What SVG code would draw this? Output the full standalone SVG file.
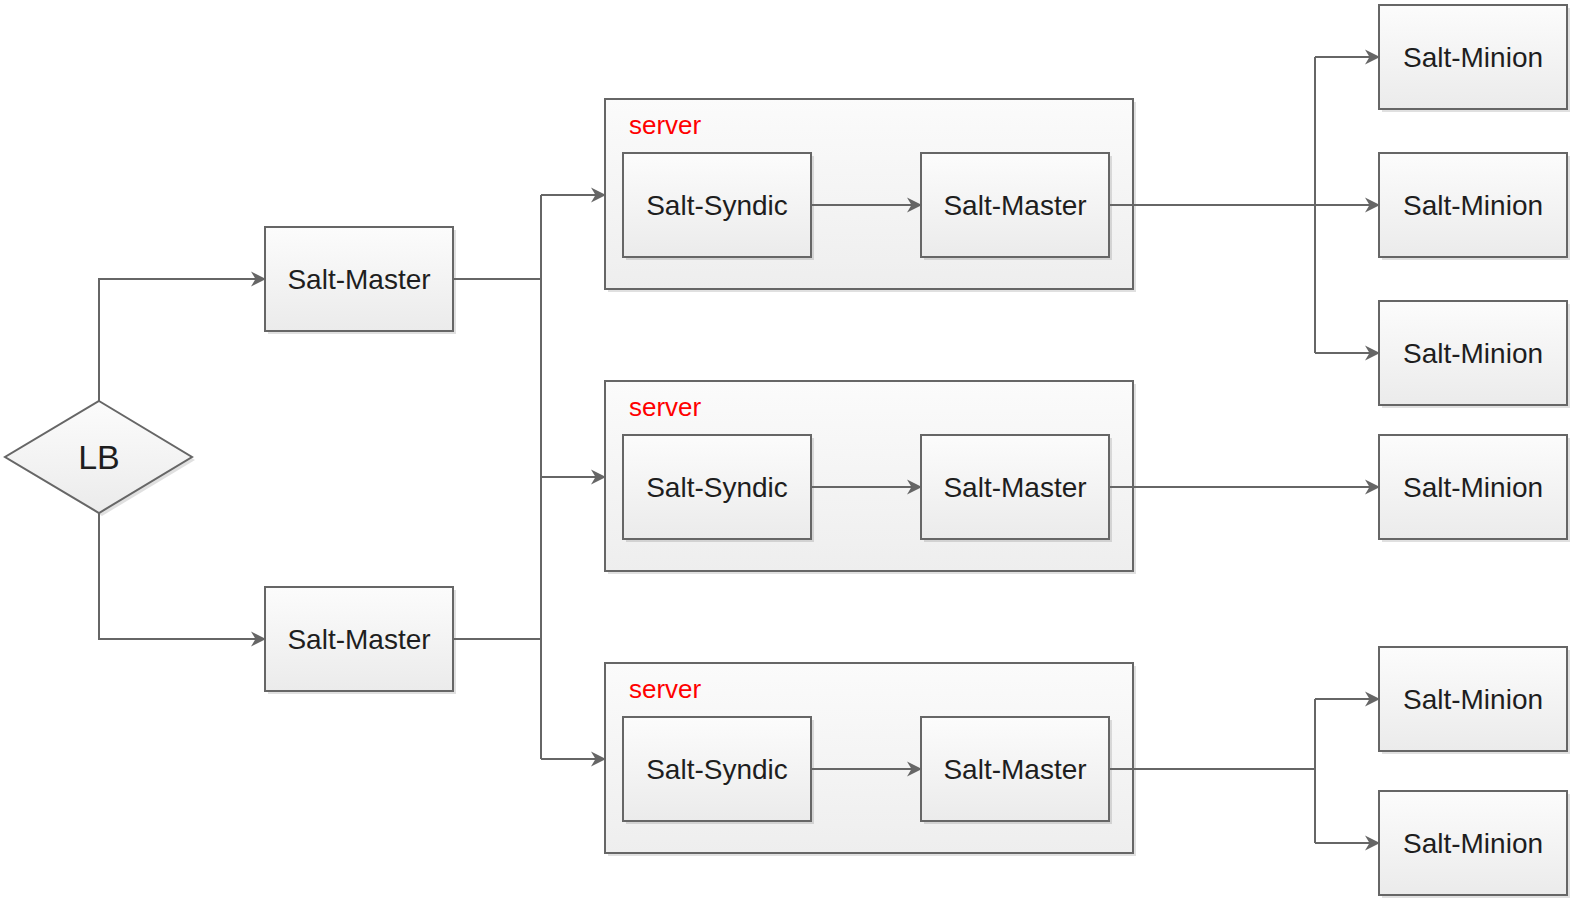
<svg xmlns="http://www.w3.org/2000/svg" width="1572" height="900" viewBox="0 0 1572 900">
<style>
.box{fill:url(#g);stroke:#666;stroke-width:2}
.srv{fill:url(#gs);stroke:#666;stroke-width:2}
.sh{fill:#000;fill-opacity:0.12}
.lbl{font-family:"Liberation Sans",Arial,sans-serif;font-size:28px;fill:#1e1e1e;text-anchor:middle}
.srvt{font-family:"Liberation Sans",Arial,sans-serif;font-size:26px;fill:#ff0000}
.ln{fill:none;stroke:#666;stroke-width:2}
.ar{marker-end:url(#arr)}
</style>
<defs>
<linearGradient id="g" x1="0" y1="0" x2="0" y2="1">
<stop offset="0" stop-color="#fcfcfc"/>
<stop offset="1" stop-color="#ebebeb"/>
</linearGradient>
<linearGradient id="gs" x1="0" y1="0" x2="0" y2="1">
<stop offset="0" stop-color="#fbfbfb"/>
<stop offset="1" stop-color="#eeeeee"/>
</linearGradient>
<marker id="arr" markerUnits="userSpaceOnUse" viewBox="0 0 15 16" markerWidth="15" markerHeight="16" refX="14" refY="8" orient="auto">
<path d="M15,8 L0,0.5 L4.5,8 L0,15.5 Z" fill="#666"/>
</marker>
</defs>
<rect width="1572" height="900" fill="#fff"/>

<g id="lb">
<polygon class="sh" points="102,404 195,460 102,516 8,460"/>
<polygon class="box" points="99,401 192,457 99,513 5,457"/>
<text class="lbl" x="99" y="469" style="font-size:34px">LB</text>
</g>

<g id="master-a">
<rect class="sh" x="268" y="230" width="188" height="104"/>
<rect class="box" x="265" y="227" width="188" height="104"/>
<text class="lbl" x="359" y="289">Salt-Master</text>
</g>
<g id="master-b">
<rect class="sh" x="268" y="590" width="188" height="104"/>
<rect class="box" x="265" y="587" width="188" height="104"/>
<text class="lbl" x="359" y="649">Salt-Master</text>
</g>

<g id="server-1">
<rect class="sh" x="608" y="102" width="528" height="190"/>
<rect class="srv" x="605" y="99" width="528" height="190"/>
<text class="srvt" x="629" y="134">server</text>
<g id="syndic-1">
<rect class="sh" x="626" y="156" width="188" height="104"/>
<rect class="box" x="623" y="153" width="188" height="104"/>
<text class="lbl" x="717" y="215">Salt-Syndic</text>
</g>
<g id="smaster-1">
<rect class="sh" x="924" y="156" width="188" height="104"/>
<rect class="box" x="921" y="153" width="188" height="104"/>
<text class="lbl" x="1015" y="215">Salt-Master</text>
</g>
</g>

<g id="server-2">
<rect class="sh" x="608" y="384" width="528" height="190"/>
<rect class="srv" x="605" y="381" width="528" height="190"/>
<text class="srvt" x="629" y="416">server</text>
<g id="syndic-2">
<rect class="sh" x="626" y="438" width="188" height="104"/>
<rect class="box" x="623" y="435" width="188" height="104"/>
<text class="lbl" x="717" y="497">Salt-Syndic</text>
</g>
<g id="smaster-2">
<rect class="sh" x="924" y="438" width="188" height="104"/>
<rect class="box" x="921" y="435" width="188" height="104"/>
<text class="lbl" x="1015" y="497">Salt-Master</text>
</g>
</g>

<g id="server-3">
<rect class="sh" x="608" y="666" width="528" height="190"/>
<rect class="srv" x="605" y="663" width="528" height="190"/>
<text class="srvt" x="629" y="698">server</text>
<g id="syndic-3">
<rect class="sh" x="626" y="720" width="188" height="104"/>
<rect class="box" x="623" y="717" width="188" height="104"/>
<text class="lbl" x="717" y="779">Salt-Syndic</text>
</g>
<g id="smaster-3">
<rect class="sh" x="924" y="720" width="188" height="104"/>
<rect class="box" x="921" y="717" width="188" height="104"/>
<text class="lbl" x="1015" y="779">Salt-Master</text>
</g>
</g>

<g id="minion-1">
<rect class="sh" x="1382" y="8" width="188" height="104"/>
<rect class="box" x="1379" y="5" width="188" height="104"/>
<text class="lbl" x="1473" y="67">Salt-Minion</text>
</g>
<g id="minion-2">
<rect class="sh" x="1382" y="156" width="188" height="104"/>
<rect class="box" x="1379" y="153" width="188" height="104"/>
<text class="lbl" x="1473" y="215">Salt-Minion</text>
</g>
<g id="minion-3">
<rect class="sh" x="1382" y="304" width="188" height="104"/>
<rect class="box" x="1379" y="301" width="188" height="104"/>
<text class="lbl" x="1473" y="363">Salt-Minion</text>
</g>
<g id="minion-4">
<rect class="sh" x="1382" y="438" width="188" height="104"/>
<rect class="box" x="1379" y="435" width="188" height="104"/>
<text class="lbl" x="1473" y="497">Salt-Minion</text>
</g>
<g id="minion-5">
<rect class="sh" x="1382" y="650" width="188" height="104"/>
<rect class="box" x="1379" y="647" width="188" height="104"/>
<text class="lbl" x="1473" y="709">Salt-Minion</text>
</g>
<g id="minion-6">
<rect class="sh" x="1382" y="794" width="188" height="104"/>
<rect class="box" x="1379" y="791" width="188" height="104"/>
<text class="lbl" x="1473" y="853">Salt-Minion</text>
</g>

<g id="connectors">
<path class="ln ar" d="M99,401 V279 H265"/>
<path class="ln ar" d="M99,513 V639 H265"/>
<path class="ln" d="M453,279 H541"/>
<path class="ln" d="M453,639 H541"/>
<path class="ln" d="M541,195 V759"/>
<path class="ln ar" d="M541,195 H605"/>
<path class="ln ar" d="M541,477 H605"/>
<path class="ln ar" d="M541,759 H605"/>
<path class="ln ar" d="M811,205 H921"/>
<path class="ln ar" d="M811,487 H921"/>
<path class="ln ar" d="M811,769 H921"/>
<path class="ln ar" d="M1109,205 H1379"/>
<path class="ln" d="M1315,57 V353"/>
<path class="ln ar" d="M1315,57 H1379"/>
<path class="ln ar" d="M1315,353 H1379"/>
<path class="ln ar" d="M1109,487 H1379"/>
<path class="ln" d="M1109,769 H1315"/>
<path class="ln" d="M1315,699 V843"/>
<path class="ln ar" d="M1315,699 H1379"/>
<path class="ln ar" d="M1315,843 H1379"/>
</g>
</svg>
